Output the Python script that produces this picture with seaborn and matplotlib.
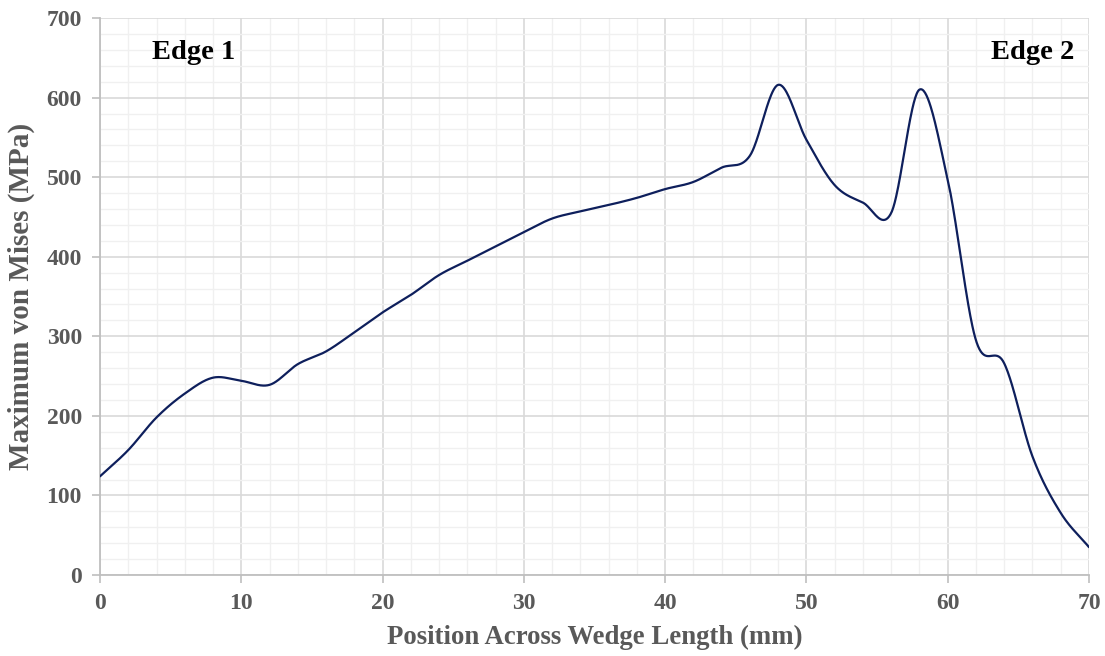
import numpy as np
import pandas as pd
import matplotlib
matplotlib.use("Agg")
import matplotlib.pyplot as plt
import seaborn as sns
from matplotlib.ticker import MultipleLocator

# Stress profile across the wedge
position_mm = [0, 2, 4, 6, 8, 10, 12, 14, 16, 18, 20, 22, 24, 26, 28, 30, 32, 34,
               36, 38, 40, 42, 44, 46, 48, 50, 52, 54, 56, 58, 60, 62, 64, 66, 68, 70]
von_mises_mpa = [124, 157, 198, 228, 248, 244, 239, 265, 281, 305, 330, 352, 377, 395,
                 413, 431, 448, 457, 465, 474, 485, 494, 512, 527, 616, 547, 490, 468,
                 455, 610, 497, 295, 266, 149, 78, 35]

x_ticks = [0, 10, 20, 30, 40, 50, 60, 70]
y_ticks = [0, 100, 200, 300, 400, 500, 600, 700]
edge_labels = ["Edge 1", "Edge 2"]


def smooth_curve(x, y, steps=40):
    """Catmull-Rom spline through the points, like a smoothed line series."""
    pts = np.column_stack([x, y]).astype(float)
    pad = np.vstack([2 * pts[0] - pts[1], pts, 2 * pts[-1] - pts[-2]])
    out = []
    t = np.linspace(0, 1, steps, endpoint=False)[:, None]
    for i in range(1, len(pad) - 2):
        p0, p1, p2, p3 = pad[i - 1], pad[i], pad[i + 1], pad[i + 2]
        seg = 0.5 * ((2 * p1) + (-p0 + p2) * t + (2 * p0 - 5 * p1 + 4 * p2 - p3) * t ** 2
                     + (-p0 + 3 * p1 - 3 * p2 + p3) * t ** 3)
        out.append(seg)
    out.append(pts[-1][None, :])
    arr = np.vstack(out)
    return arr[:, 0], arr[:, 1]


sx, sy = smooth_curve(position_mm, von_mises_mpa)
df = pd.DataFrame({"Position": sx, "Stress": sy})

sns.set_theme(style="white")
plt.rcParams["font.family"] = ["Liberation Serif", "DejaVu Serif"]

fig = plt.figure(figsize=(11.05, 6.56), dpi=100)
ax = fig.add_axes([0.0905, 0.1235, 0.895, 0.849])

sns.lineplot(data=df, x="Position", y="Stress", ax=ax, color="#0e1f5c",
             linewidth=1.6, sort=False, estimator=None, zorder=3)

ax.set_xlim(0, 70)
ax.set_ylim(0, 700)
ax.set_xticks(x_ticks)
ax.set_yticks(y_ticks)
ax.xaxis.set_minor_locator(MultipleLocator(2))
ax.yaxis.set_minor_locator(MultipleLocator(20))

ax.grid(which="major", color="#d9d9d9", linewidth=1.2, zorder=1)
ax.grid(which="minor", color="#f0f0f0", linewidth=1.0, zorder=0)
ax.set_axisbelow(True)

for side in ["top", "right"]:
    ax.spines[side].set_visible(False)
for side in ["left", "bottom"]:
    ax.spines[side].set_color("#bfbfbf")
    ax.spines[side].set_linewidth(1.3)

ax.tick_params(which="major", direction="out", length=6, width=1.2, color="#bfbfbf",
               labelcolor="#595959", labelsize=17, pad=7, bottom=True, left=True)
ax.tick_params(which="minor", length=0)
for lab in ax.get_xticklabels() + ax.get_yticklabels():
    lab.set_fontweight("bold")

ax.set_xlabel("Position Across Wedge Length (mm)", fontsize=19.3, fontweight="bold",
              color="#595959", labelpad=8)
ax.set_ylabel("Maximum von Mises (MPa)", fontsize=21, fontweight="bold",
              color="#595959", labelpad=8)

ax.text(6.65, 657, edge_labels[0], fontsize=20.5, fontweight="bold", color="black",
        ha="center", va="center")
ax.text(69.0, 657, edge_labels[1], fontsize=20.5, fontweight="bold", color="black",
        ha="right", va="center")

fig.savefig("out.png", dpi=100)
